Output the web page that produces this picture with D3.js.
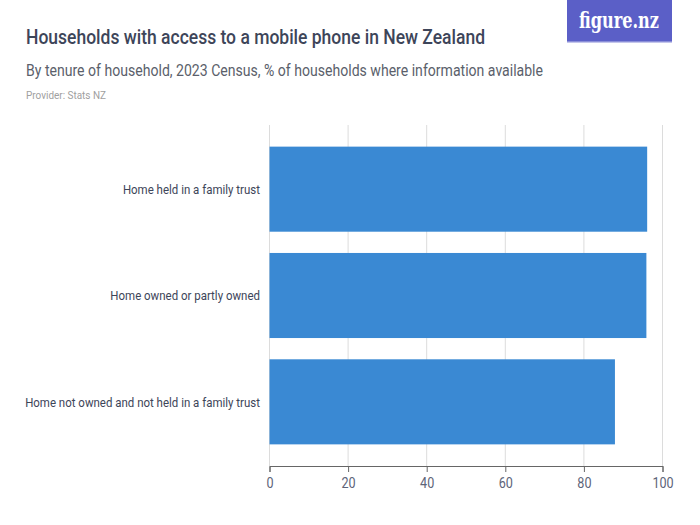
<!DOCTYPE html>
<html><head><meta charset="utf-8">
<script src="https://cdn.jsdelivr.net/npm/d3@7"></script>
<style>
body{margin:0;background:#fff;}
text{font-family:"Roboto",sans-serif;}
</style></head>
<body><svg id="c" width="700" height="525"></svg>
<script>
const categories = ["Home held in a family trust","Home owned or partly owned","Home not owned and not held in a family trust"];
const values = [96.1, 95.9, 87.9];
const ticks = [0,20,40,60,80,100];
const title = "Households with access to a mobile phone in New Zealand";
const subtitle = "By tenure of household, 2023 Census, % of households where information available";
const provider = "Provider: Stats NZ";

const svg = d3.select("#c");
svg.append("rect").attr("width",700).attr("height",525).attr("fill","#fff");

function fit(sel, w){ sel.attr("textLength",w).attr("lengthAdjust","spacingAndGlyphs"); }
function condense(sel, f){ sel.each(function(){ const l=this.getComputedTextLength(); if(l>0){ d3.select(this).attr("textLength",l*f).attr("lengthAdjust","spacingAndGlyphs"); } }); }

const t1 = svg.append("text").attr("x",26).attr("y",44).attr("font-size",20).attr("font-weight","500").attr("fill","#3d4559").text(title);
fit(t1,459);
const t2 = svg.append("text").attr("x",26).attr("y",76).attr("font-size",16).attr("fill","#5b5f6b").text(subtitle);
fit(t2,517);
const t3 = svg.append("text").attr("x",26).attr("y",99).attr("font-size",11).attr("fill","#a0a0a0").text(provider);
fit(t3,80);

// logo
svg.append("rect").attr("x",567).attr("y",0).attr("width",105).attr("height",42).attr("fill","#5b5fc7");
svg.append("rect").attr("x",567).attr("y",41).attr("width",105).attr("height",1.5).attr("fill","#8a8ed8");
svg.append("text").attr("x",619).attr("y",28).attr("text-anchor","middle").attr("font-size",23).attr("font-weight","bold")
  .attr("fill","#fff").style("font-family","'DejaVu Serif','Liberation Serif',serif").attr("textLength",80).attr("lengthAdjust","spacingAndGlyphs").text("figure.nz");

const x = d3.scaleLinear().domain([0,100]).range([269.5,662.5]);
const y = d3.scaleBand().domain(categories).range([136,455]).paddingInner(0.2).paddingOuter(0.1);

// gridlines
svg.append("g").selectAll("line").data(ticks).join("line")
  .attr("x1",d=>x(d)).attr("x2",d=>x(d)).attr("y1",125).attr("y2",466)
  .attr("stroke","#dcdcdc").attr("stroke-width",1);

svg.append("g").selectAll("rect").data(values).join("rect")
  .attr("x",x(0)).attr("y",(d,i)=>y(categories[i])).attr("width",d=>x(d)-x(0)).attr("height",y.bandwidth())
  .attr("fill","#3a89d3");

const ax = svg.append("g").attr("transform","translate(0,466)")
  .call(d3.axisBottom(x).tickValues(ticks).tickSize(6).tickPadding(6).tickFormat(d3.format("d")));
ax.select(".domain").attr("stroke","#666");
ax.selectAll(".tick line").attr("stroke","#666");
ax.selectAll(".tick text").attr("font-size",14).attr("fill","#5d6479").style("font-family","Roboto,sans-serif");
condense(ax.selectAll(".tick text"),0.9);

const yl = svg.append("g").selectAll("text").data(categories).join("text")
  .attr("x",260).attr("y",d=>y(d)+y.bandwidth()/2).attr("dy","0.35em").attr("text-anchor","end")
  .attr("font-size",13.5).attr("fill","#3d4559").text(d=>d);
condense(yl,0.85);
</script></body></html>
